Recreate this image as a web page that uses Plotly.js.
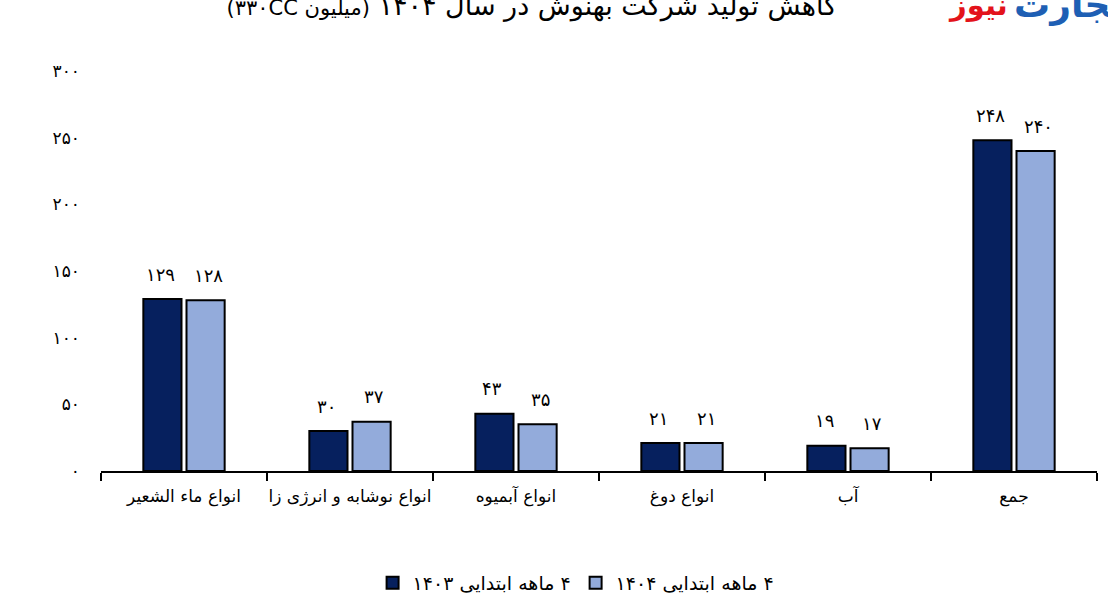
<!DOCTYPE html>
<html>
<head>
<meta charset="utf-8">
<script src="https://cdn.plot.ly/plotly-3.0.1.min.js"></script>
<style>html,body{margin:0;padding:0;background:#fff;}#chart{width:1108px;height:598px;}</style>
</head>
<body>
<div id="chart"></div>
<script>
const categories = ['انواع ماء الشعیر', 'انواع نوشابه و انرژی زا', 'انواع آبمیوه', 'انواع دوغ', 'آب', 'جمع'];
const values1403 = [129, 30, 43, 21, 19, 248];
const values1404 = [128, 37, 35, 21, 17, 240];
const seriesNames = ['۴ ماهه ابتدایی ۱۴۰۳', '۴ ماهه ابتدایی ۱۴۰۴'];
const yTickVals = [0, 50, 100, 150, 200, 250, 300];
const titleMain = 'کاهش تولید شرکت بهنوش در سال ۱۴۰۴';
const titleUnit = '(میلیون ۳۳۰CC)';
const logoRed = 'نیوز';
const logoBlue = 'تجارت';

const RLE = '\u202B', PDF = '\u202C';
const rtl = s => RLE + s + PDF;
const toFa = v => String(v).replace(/\d/g, d => '۰۱۲۳۴۵۶۷۸۹'[d]);
const FONT = 'DejaVu Sans, sans-serif';

const traces = [
  {type: 'bar', x: categories, y: values1403, name: rtl(seriesNames[0]),
   marker: {color: '#06205e', line: {color: '#000', width: 2}}, hoverinfo: 'skip'},
  {type: 'bar', x: categories, y: values1404, name: rtl(seriesNames[1]),
   marker: {color: '#93abdb', line: {color: '#000', width: 2}}, hoverinfo: 'skip'}
];

const annotations = [];
categories.forEach((c, i) => {
  [[values1403, -24], [values1404, 24]].forEach(([arr, dx]) => {
    annotations.push({xref: 'x', yref: 'y', x: c, y: arr[i], xshift: dx, yshift: 25,
      text: toFa(arr[i]), showarrow: false, font: {family: FONT, size: 18, color: '#000'}});
  });
});
annotations.push({xref: 'paper', yref: 'paper', x: 0.9127, y: 1.165, xanchor: 'right', yanchor: 'middle',
  text: '<b>' + logoRed + '</b>', showarrow: false, font: {family: FONT, size: 29, color: '#e3131b'}});
annotations.push({xref: 'paper', yref: 'paper', x: 0.9147, y: 1.165, xanchor: 'left', yanchor: 'middle',
  text: '<b>' + logoBlue + '</b>', showarrow: false, font: {family: FONT, size: 36, color: '#1e5fb4'}});

const layout = {
  width: 1108, height: 598,
  margin: {l: 101, r: 11, t: 71, b: 127, autoexpand: false},
  paper_bgcolor: '#fff', plot_bgcolor: '#fff',
  font: {family: FONT, color: '#000'},
  title: {text: rtl(titleMain + ' <span style="font-size:21px">' + titleUnit + '</span>'),
          font: {family: FONT, size: 27, color: '#000'},
          x: 0.48, xanchor: 'center', y: 0.99, yref: 'container', yanchor: 'middle'},
  barmode: 'group', bargap: 0.48, bargroupgap: 0.116,
  showlegend: true,
  legend: {orientation: 'h', x: 0.477, xanchor: 'center', y: -0.28, yanchor: 'middle',
           font: {family: FONT, size: 19, color: '#000'}},
  xaxis: {showline: true, linecolor: '#000', linewidth: 2, ticks: 'outside', tickson: 'boundaries',
          ticklen: 8, tickwidth: 2, tickcolor: '#000', showgrid: false, ticklabelstandoff: 9,
          tickangle: 0,
          tickfont: {family: FONT, size: 17, color: '#000'}, fixedrange: true, automargin: false},
  yaxis: {range: [0, 300], tickvals: yTickVals, ticktext: yTickVals.map(toFa), showgrid: false,
          showline: false, zeroline: false, ticks: '', ticklabelstandoff: 20, automargin: false,
          tickfont: {family: FONT, size: 17, color: '#000'}, fixedrange: true},
  annotations: annotations
};

Plotly.newPlot('chart', traces, layout, {displayModeBar: false, staticPlot: true});
</script>
</body>
</html>
